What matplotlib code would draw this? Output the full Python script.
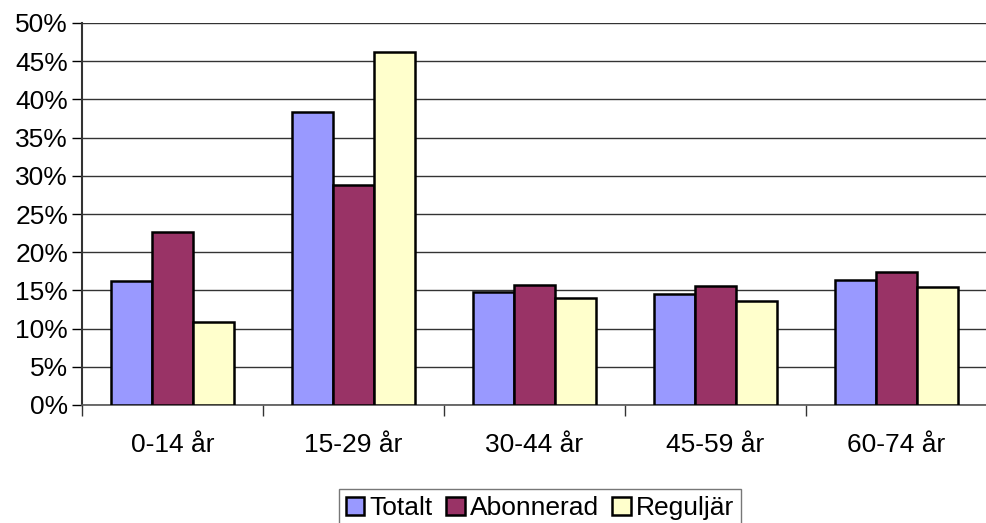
import matplotlib
matplotlib.use("Agg")
import matplotlib.pyplot as plt
import numpy as np
from matplotlib.ticker import FixedLocator, NullFormatter

categories = ["0-14 år", "15-29 år", "30-44 år", "45-59 år", "60-74 år"]
series_names = ["Totalt", "Abonnerad", "Reguljär"]
totalt = [16.2, 38.3, 14.75, 14.5, 16.3]
abonnerad = [22.6, 28.8, 15.7, 15.6, 17.4]
reguljar = [10.9, 46.2, 14.0, 13.6, 15.4]
colors = ["#9999FF", "#993366", "#FFFFCC"]
yticks = [0, 5, 10, 15, 20, 25, 30, 35, 40, 45, 50]

plt.rcParams['font.family'] = ['Liberation Sans', 'DejaVu Sans']

fig = plt.figure(figsize=(9.86, 5.23), dpi=100)
W, H = 986, 523
ax = fig.add_axes([82 / W, 1 - 405 / H, (987 - 82) / W, (405 - 23) / H])

x = np.arange(len(categories))
bw = 0.227
for i, (vals, name, c) in enumerate(zip([totalt, abonnerad, reguljar], series_names, colors)):
    ax.bar(x + (i - 1) * bw, vals, width=bw, color=c, edgecolor="black",
           linewidth=1.8, label=name, zorder=3)

ax.set_xlim(-0.5, len(categories) - 0.5)
ax.set_ylim(0, 50)
ax.set_yticks(yticks)
ax.set_yticklabels([f"{v}%" for v in yticks], fontsize=19)
ax.yaxis.grid(True, color="#333333", linewidth=1.0, zorder=0)
ax.tick_params(axis='y', length=7, width=1, direction='out', pad=3)

ax.set_xticks(x)
ax.set_xticklabels(categories, fontsize=19)
ax.tick_params(axis='x', which='major', length=0, pad=20)
ax.xaxis.set_minor_locator(FixedLocator(np.arange(-0.5, len(categories), 1.0)))
ax.xaxis.set_minor_formatter(NullFormatter())
ax.tick_params(axis='x', which='minor', length=8, width=1, direction='out', color="#333333")

for s in ["top", "right"]:
    ax.spines[s].set_visible(False)
ax.spines["left"].set_color("#333333")
ax.spines["left"].set_linewidth(1.5)
ax.spines["bottom"].set_color("#555555")
ax.spines["bottom"].set_linewidth(1.2)

leg = fig.legend(loc="center", bbox_to_anchor=(540 / W, 1 - 508 / H), ncol=3,
                 fontsize=19, frameon=True, fancybox=False, edgecolor="#555555",
                 handlelength=0.7, handleheight=0.7, handletextpad=0.2,
                 columnspacing=0.5, borderpad=0.25, borderaxespad=0)
leg.get_frame().set_linewidth(1.0)

fig.savefig("out.png", dpi=100)
